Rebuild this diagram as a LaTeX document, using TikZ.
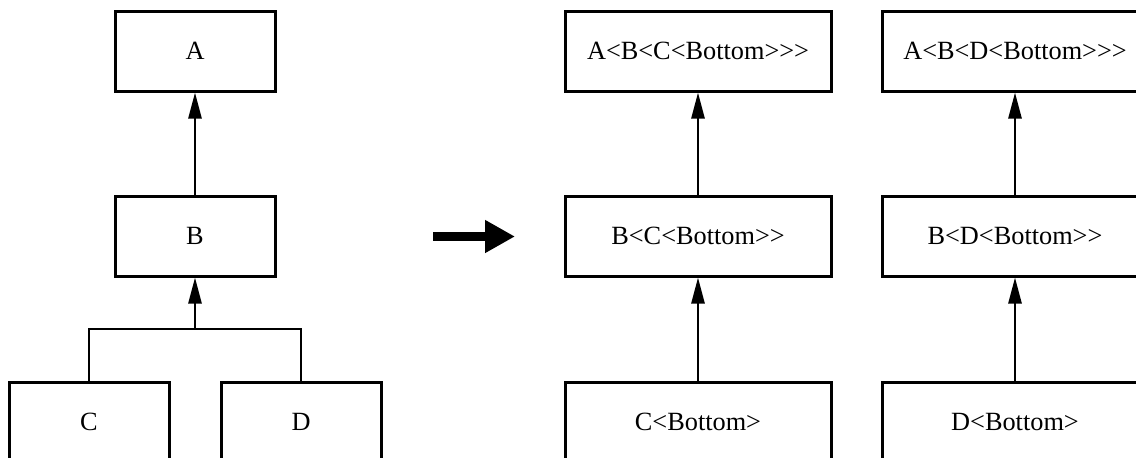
\documentclass[tikz,border=0pt]{standalone}
\usepackage{fontspec}
\setmainfont{Liberation Serif}[Ligatures=TeXOff]
\usetikzlibrary{arrows.meta}
\begin{document}
\begin{tikzpicture}[x=1pt,y=-1pt,
  box/.style={draw, line width=3pt, minimum height=80pt, inner sep=0pt,
    font=\fontsize{26.3}{30}\selectfont},
  narrow/.style={box, minimum width=160pt},
  wide/.style={box, minimum width=266pt},
  wire/.style={line width=2.6pt},
  link/.style={wire, -{Triangle[length=26pt,width=13pt]}},
  bigarrow/.style={line width=9pt, -{Triangle[length=30pt,width=31pt]}}]
\useasboundingbox (0,0) rectangle (1136,458);
\clip (0,0) rectangle (1136,458);

% original hierarchy
\node[narrow] (A) at (195,51)  {A};
\node[narrow] (B) at (195,236) {B};
\node[narrow] (C) at (89,422)  {C};
\node[narrow] (D) at (301,422) {D};
\coordinate (jn) at (195,329);
\draw[wire] (C.north) |- (jn);
\draw[wire] (D.north) |- (jn);
\draw[link] (jn) -- (B.south);
\draw[link] (B.north) -- (A.south);

% transformation arrow
\coordinate (gs) at (433,236.5);
\coordinate (ge) at (515,236.5);
\draw[bigarrow] (gs) -- (ge);

% linearised chains
\node[wide] (ac) at (698,51)  {A<B<C<Bottom>>>};
\node[wide] (bc) at (698,236) {B<C<Bottom>>};
\node[wide] (cc) at (698,422) {C<Bottom>};
\draw[link] (cc.north) -- (bc.south);
\draw[link] (bc.north) -- (ac.south);

\node[wide] (ad) at (1015,51)  {A<B<D<Bottom>>>};
\node[wide] (bd) at (1015,236) {B<D<Bottom>>};
\node[wide] (dd) at (1015,422) {D<Bottom>};
\draw[link] (dd.north) -- (bd.south);
\draw[link] (bd.north) -- (ad.south);
\end{tikzpicture}
\end{document}
